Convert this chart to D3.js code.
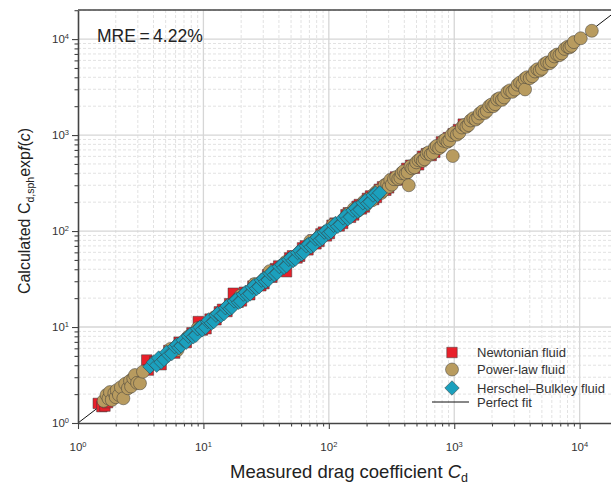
<!DOCTYPE html>
<html>
<head>
<meta charset="utf-8">
<script src="https://cdn.jsdelivr.net/npm/d3@7"></script>
<style>
  body { margin: 0; background: #fff; }
  text { font-family: "Liberation Sans", Arial, sans-serif; }
</style>
</head>
<body>
<script>
// data: [measured Cd, calculated Cd]
let newtonian = [[1.45,1.60],[1.55,1.48],[1.64,1.50],[1.72,1.63],[1.90,1.84],[2.25,2.15],[3.53,4.53],[3.64,3.56],[4.10,4.35],[4.60,4.05],[5.30,5.70],[5.90,5.35],[6.40,6.95],[7.30,6.90],[8.10,8.70],[9.10,11.4],[9.80,9.30],[10.5,9.6],[11.3,12.1],[12.6,11.9],[13.4,14.4],[14.2,15.3],[15.4,14.5],[16.2,17.5],[17.3,22.5],[18.9,18.1],[20.1,18.7],[21.2,23.0],[23.4,21.7],[24.8,26.7],[26.1,28.0],[28.7,26.9],[30.4,28.3],[32.5,35.1],[35.2,33.0],[37.5,40.6],[39.8,43.2],[42.1,39.0],[44.6,41.5],[46.0,37.7],[48.7,52.5],[51.3,55.2],[55.8,52.4],[58.5,54.6],[61.7,66.8],[65.0,70.1],[68.2,63.7],[74.9,80.6],[79.0,73.6],[83.5,78.1],[86.5,93.4],[90.4,97.5],[95.8,89.0],[101,94.2],[106,115],[112,121],[121,113],[129,120],[137,148],[143,155],[149,139],[158,147],[168,181],[175,189],[182,170],[192,178],[203,219],[215,232],[228,213],[240,224],[253,272],[268,289],[285,266],[300,282],[322,346],[340,366],[365,340],[390,365],[418,450],[450,485],[482,452],[520,490],[560,602],[600,640],[655,612],[700,660],[790,850],[900,940],[980,1030],[1080,1140],[1180,1300]];

let powerLaw = [[1.60,1.70],[1.69,1.96],[1.75,1.80],[1.80,2.10],[1.86,1.74],[1.95,2.05],[2.00,1.86],[2.04,2.20],[2.12,1.96],[2.20,2.36],[2.30,1.81],[2.38,2.56],[2.50,2.30],[2.60,2.75],[2.65,2.40],[2.76,2.92],[2.85,3.16],[2.96,2.62],[3.12,2.59],[3.30,3.42],[5.45,5.90],[6.20,5.75],[7.60,7.95],[9.00,9.70],[12.2,12.6],[19.8,21.2],[25.6,28.1],[33.8,38.2],[45.3,47.6],[71.2,78.5],[86.0,90.4],[108,116],[142,151],[158,170],[165,158],[174,166],[185,192],[191,203],[198,188],[206,216],[221,209],[228,240],[240,256],[252,265],[262,249],[270,262],[279,301],[292,310],[301,289],[309,340],[318,305],[331,347],[345,365],[358,349],[372,360],[381,402],[395,420],[409,394],[425,410],[434,300],[448,472],[462,450],[482,461],[498,520],[519,547],[540,565],[561,539],[580,560],[603,641],[625,660],[648,627],[675,650],[702,742],[725,770],[758,731],[790,765],[821,873],[850,900],[884,851],[915,880],[950,1000],[973,605],[1000,1060],[1050,1010],[1100,1060],[1150,1200],[1200,1270],[1250,1220],[1300,1270],[1350,1420],[1420,1500],[1480,1450],[1550,1520],[1600,1680],[1680,1770],[1750,1700],[1820,1790],[1900,2000],[1980,2080],[2050,2000],[2120,2100],[2200,2350],[2300,2420],[2400,2330],[2500,2470],[2650,2800],[2780,2920],[2900,2820],[3050,2980],[3200,3350],[3350,3530],[3500,3400],[3650,3850],[3670,2990],[3800,4000],[4000,3920],[4200,4100],[4400,4600],[4600,4850],[4800,4700],[5000,4900],[5250,5500],[5500,5700],[5750,5600],[6000,5900],[6300,6600],[6600,6900],[6900,6800],[7200,7100],[7600,7900],[8000,8300],[8300,8200],[8600,8500],[9000,9300],[10200,10200],[12500,12200]];

let herschelBulkley = [[3.75,3.86],[4.00,4.30],[4.24,4.00],[4.40,4.75],[4.60,4.30],[4.85,4.60],[5.10,5.45],[5.30,5.10],[5.60,5.30],[5.90,6.25],[6.15,6.55],[6.40,6.10],[6.65,6.35],[6.90,7.30],[7.30,6.95],[7.60,8.05],[7.90,8.40],[8.30,7.90],[8.70,8.20],[9.00,9.60],[9.40,9.95],[9.80,9.35],[10.4,9.90],[10.8,11.4],[11.0,11.8],[11.6,11.0],[12.1,11.4],[12.6,13.3],[13.0,13.8],[13.8,13.1],[14.6,13.8],[15.0,15.9],[15.5,16.6],[16.3,15.5],[16.9,16.0],[17.6,18.7],[18.4,19.5],[19.1,18.1],[19.8,18.6],[20.8,22.0],[21.7,23.0],[22.6,21.4],[23.6,22.2],[24.5,26.0],[25.4,27.1],[26.6,25.2],[27.8,26.3],[29.0,30.8],[30.2,32.1],[31.5,29.8],[32.9,30.9],[34.0,36.0],[35.1,37.5],[36.9,35.0],[38.6,36.4],[40.3,42.7],[42.3,44.6],[44.0,41.8],[46.0,43.4],[47.9,50.8],[49.7,52.8],[52.0,49.3],[54.1,51.0],[56.4,59.7],[58.8,62.4],[61.0,57.8],[63.2,59.6],[66.2,70.2],[69.0,73.1],[72.1,68.4],[75.6,71.1],[78.3,83.0],[81.1,86.2],[85.0,80.6],[88.7,83.4],[92.0,97.5],[95.3,101],[100,95],[104,98.1],[109,115],[113,120],[118,112],[124,117],[130,137],[136,144],[142,134],[149,140],[156,165],[163,173],[170,161],[178,167],[187,197],[196,207],[205,194],[214,202],[225,237],[236,248],[245,236],[255,250]];

let decades = [1, 10, 100, 1000, 10000];
let legendLabels = ["Newtonian fluid", "Power-law fluid", "Herschel\u2013Bulkley fluid", "Perfect fit"];
let mreText = "MRE\u2009=\u20094.22%";

let width = 611, height = 485;
let x = d3.scaleLog().domain([1, 2e4]).range([78, 617.4]);
let y = d3.scaleLog().domain([1, 2e4]).range([423, 10.2]);

let minors = [];
decades.forEach((d) => { for (let k = 2; k <= 9; k++) if (d * k <= 2e4) minors.push(d * k); });

let svg = d3.select("body").append("svg")
    .attr("width", width)
    .attr("height", height);

// grid
let grid = svg.append("g");
grid.selectAll(".vminor").data(minors).enter().append("line")
    .attr("x1", d => x(d)).attr("x2", d => x(d)).attr("y1", 10).attr("y2", 423)
    .attr("stroke", "#e2e2e2").attr("stroke-dasharray", "3,2");
grid.selectAll(".hminor").data(minors).enter().append("line")
    .attr("y1", d => y(d)).attr("y2", d => y(d)).attr("x1", 78).attr("x2", 617)
    .attr("stroke", "#e2e2e2").attr("stroke-dasharray", "3,2");
grid.selectAll(".vmajor").data(decades.slice(1)).enter().append("line")
    .attr("x1", d => x(d)).attr("x2", d => x(d)).attr("y1", 10).attr("y2", 423)
    .attr("stroke", "#d6d6d6").attr("stroke-width", 1.3);
grid.selectAll(".hmajor").data(decades.slice(1)).enter().append("line")
    .attr("y1", d => y(d)).attr("y2", d => y(d)).attr("x1", 78).attr("x2", 617)
    .attr("stroke", "#d6d6d6").attr("stroke-width", 1.3);

// perfect fit line
svg.append("line")
    .attr("x1", x(1)).attr("y1", y(1)).attr("x2", x(2e4)).attr("y2", y(2e4))
    .attr("stroke", "#111").attr("stroke-width", 1);

let stroke = "#3a3a3a";
let sq = d3.symbol().type(d3.symbolSquare).size(110);
let dia = d3.symbol().type(d3.symbolSquare).size(105);

svg.append("g").selectAll("path").data(newtonian).enter().append("path")
    .attr("d", sq)
    .attr("transform", d => "translate(" + x(d[0]) + "," + y(d[1]) + ")")
    .attr("fill", "#e8202a").attr("stroke", stroke).attr("stroke-width", 0.5);

svg.append("g").selectAll("circle").data(powerLaw).enter().append("circle")
    .attr("cx", d => x(d[0])).attr("cy", d => y(d[1])).attr("r", 6.5)
    .attr("fill", "#b89b5f").attr("stroke", stroke).attr("stroke-width", 0.5);

svg.append("g").selectAll("path").data(herschelBulkley).enter().append("path")
    .attr("d", dia)
    .attr("transform", d => "translate(" + x(d[0]) + "," + y(d[1]) + ") rotate(45)")
    .attr("fill", "#1ba0bd").attr("stroke", stroke).attr("stroke-width", 0.5);

// axes
let axisColor = "#444";
svg.append("g").attr("transform", "translate(0,423)")
    .call(d3.axisBottom(x).tickValues(decades).tickSize(6).tickSizeOuter(0).tickFormat(""));
svg.append("g").attr("transform", "translate(0,423)")
    .call(d3.axisBottom(x).tickValues(minors).tickSize(3.5).tickSizeOuter(0).tickFormat(""))
    .select(".domain").remove();
svg.append("g").attr("transform", "translate(78,0)")
    .call(d3.axisLeft(y).tickValues(decades).tickSize(6).tickSizeOuter(0).tickFormat(""));
svg.append("g").attr("transform", "translate(78,0)")
    .call(d3.axisLeft(y).tickValues(minors).tickSize(3.5).tickSizeOuter(0).tickFormat(""))
    .select(".domain").remove();
svg.selectAll(".domain").attr("stroke", axisColor).attr("stroke-width", 1.6);
svg.selectAll(".tick line").attr("stroke", axisColor).attr("stroke-width", 1.1);

svg.append("line").attr("x1", 78).attr("x2", 617).attr("y1", 10).attr("y2", 10)
    .attr("stroke", axisColor).attr("stroke-width", 1.6);

// tick labels 10^n
decades.forEach((d, i) => {
  let t = svg.append("text").attr("x", x(d)).attr("y", 451)
      .attr("text-anchor", "middle").attr("font-size", 11.5).attr("fill", "#333");
  t.append("tspan").text("10");
  t.append("tspan").attr("dy", -4.5).attr("font-size", 7.5).text(i);
  let u = svg.append("text").attr("x", 69).attr("y", y(d) + 4)
      .attr("text-anchor", "end").attr("font-size", 11.5).attr("fill", "#333");
  u.append("tspan").text("10");
  u.append("tspan").attr("dy", -4.5).attr("font-size", 7.5).text(i);
});

// axis titles
let xt = svg.append("text").attr("x", 349).attr("y", 478)
    .attr("text-anchor", "middle").attr("font-size", 18.5).attr("fill", "#222");
xt.append("tspan").text("Measured drag coefficient ");
xt.append("tspan").attr("font-style", "italic").text("C");
xt.append("tspan").attr("dy", 4).attr("font-size", 12.5).text("d");

let yt = svg.append("text").attr("transform", "translate(30,211) rotate(-90)")
    .attr("text-anchor", "middle").attr("font-size", 16).attr("fill", "#222");
yt.append("tspan").text("Calculated C");
yt.append("tspan").attr("dy", 3.5).attr("font-size", 10.5).text("d,sph");
yt.append("tspan").attr("dy", -3.5).text("exp");
yt.append("tspan").attr("font-style", "italic").text("f");
yt.append("tspan").text("(");
yt.append("tspan").attr("font-style", "italic").text("c");
yt.append("tspan").text(")");

svg.append("text").attr("x", 97).attr("y", 42)
    .attr("font-size", 17.5).attr("fill", "#222").text(mreText);

// legend
let lg = svg.append("g");
let rows = [352.5, 369.5, 388, 402];
lg.append("path").attr("d", sq).attr("transform", "translate(452," + rows[0] + ")")
    .attr("fill", "#e8202a").attr("stroke", stroke).attr("stroke-width", 0.5);
lg.append("circle").attr("cx", 452).attr("cy", rows[1]).attr("r", 6.5)
    .attr("fill", "#b89b5f").attr("stroke", stroke).attr("stroke-width", 0.5);
lg.append("path").attr("d", dia).attr("transform", "translate(452," + rows[2] + ") rotate(45)")
    .attr("fill", "#1ba0bd").attr("stroke", stroke).attr("stroke-width", 0.5);
lg.append("line").attr("x1", 432).attr("x2", 469).attr("y1", rows[3]).attr("y2", rows[3])
    .attr("stroke", "#111").attr("stroke-width", 1);
lg.selectAll("text").data(legendLabels).enter().append("text")
    .attr("x", 477).attr("y", (d, i) => rows[i] + 4.5)
    .attr("font-size", 13).attr("fill", "#333")
    .text(d => d);
</script>
</body>
</html>
